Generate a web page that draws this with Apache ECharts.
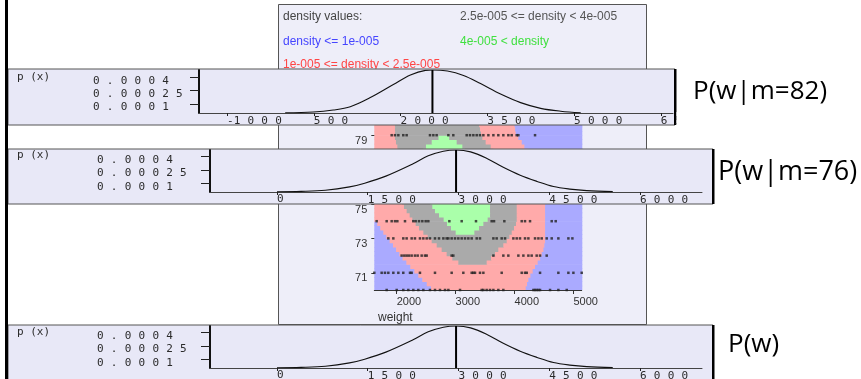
<!DOCTYPE html>
<html>
<head>
<meta charset="utf-8">
<script src="https://cdn.jsdelivr.net/npm/echarts@6/dist/echarts.min.js"></script>
<style>
  html, body { margin: 0; padding: 0; background: #ffffff; }
  #chart { width: 861px; height: 379px; }
</style>
</head>
<body>
<div id="chart"></div>
<script>
// ---- density map: weight vs height, coloured by estimated density class ----
const weightRange = [1620, 5140];
const heightRange = [70, 80.5];
const bandStep = 0.25;
// lower edge of each height band
const bandLow = [70.0, 70.25, 70.5, 70.75, 71.0, 71.25, 71.5, 71.75, 72.0, 72.25, 72.5,
                 72.75, 73.0, 73.25, 73.5, 73.75, 74.0, 74.25, 74.5, 74.75, 75.0,
                 78.0, 78.25, 78.5, 78.75, 79.0, 79.25, 79.5];
// weight where the left blue area ends (null: no blue on the left)
const blueLeftEnd = [2582, 2510, 2435, 2367, 2300, 2231, 2164, 2100, 2045, 1990, 1937,
                     1880, 1824, 1773, 1722, 1671, null, null, null, null, null,
                     null, null, null, null, null, null, null];
// weight where the grey ring starts / ends (null: band below the ring)
const grayStart = [null, null, null, null, null, null, 3046, 2944, 2848, 2763, 2679,
                   2594, 2526, 2452, 2379, 2322, 2265, 2220, 2169, 2124, 2090,
                   2028, 2011, 1988, 1971, 1971, 1971, 1971];
const grayEnd = [null, null, null, null, null, null, 3527, 3601, 3669, 3725, 3810,
                 3867, 3912, 3952, 3991, 4025, 4037, 4037, 4037, 4037, 4037,
                 3640, 3595, 3510, 3454, 3431, 3415, 3400];
// weight span of the green core
const greenStart = [null, null, null, null, null, null, null, null, null, null, null,
                    null, null, 3001, 2922, 2854, 2797, 2718, 2650, 2605, 2570,
                    2452, 2497, 2594, 2710, null, null, null];
const greenEnd = [null, null, null, null, null, null, null, null, null, null, null,
                  null, null, 3318, 3397, 3471, 3544, 3584, 3584, 3584, 3584,
                  3160, 3114, 3018, 2890, null, null, null];
// weight where the right blue area starts
const blueRightStart = [4190, 4212, 4235, 4269, 4308, 4348, 4393, 4433, 4461, 4490, 4506,
                        4518, 4518, 4518, 4518, 4518, 4518, 4518, 4518, 4518, 4518,
                        4235, 4167, 4122, 4065, 4020, 4009, 4000];
const regionColors = ['#aaaaff', '#ffaaaa', '#aaaaaa', '#aaffaa'];

// observed (weight, height) instances, one list per height
const dotHeights = [70, 71, 72, 73, 74, 79];
const dotWeights = [
  [1830, 2000, 2112, 2197, 2282, 2367, 2452, 2565, 2650, 2735, 2820, 2877, 3075, 3443,
   3471, 3527, 3584, 3641, 3725, 3810, 4320, 4348, 4376, 4405, 4433, 4603, 4744, 4886],
  [1620, 1745, 1801, 1858, 1943, 2028, 2112, 2226, 2254, 2395, 2650, 2933, 3131, 3273,
   3301, 3329, 3414, 3471, 3782, 4122, 4178, 4207, 4433, 4744, 4914, 4999, 5140],
  [2084, 2129, 2169, 2209, 2254, 2310, 2356, 2424, 2480, 2509, 2933, 2961, 3641, 3810,
   3895, 4065, 4150, 4235, 4291, 4376, 4433, 4546],
  [1858, 1943, 2112, 2169, 2254, 2310, 2395, 2452, 2509, 2565, 2650, 2718, 2792, 2848,
   2877, 2933, 2990, 3046, 3103, 3160, 3216, 3273, 3358, 3414, 3641, 3697, 3782, 3839,
   3980, 4037, 4093, 4178, 4235, 4348, 4405, 4461, 4546, 4631, 4744, 4914, 4982],
  [1660, 1830, 1915, 1971, 2011, 2141, 2282, 2322, 2379, 2435, 2492, 2537, 2894, 3103,
   3346, 3612, 3652, 3827, 4122, 4178, 4263, 4631, 4699],
  [1915, 1971, 2028, 2112, 2169, 2565, 2622, 2678, 2877, 2961, 3188, 3244, 3301, 3358,
   3414, 3471, 3556, 3641, 3725, 3810, 3895, 3952, 4037, 4065, 4348]
];
const mapWeightTicks = [2000, 3000, 4000, 5000];
const mapHeightTicks = [71, 73, 75, 77, 79];

// ---- one-dimensional densities p(x) over weight ----
const weights82 = [5, 490, 836, 1130, 1477, 1875, 2170, 2430, 2551, 2811, 3088, 3382,
                   3729, 4075, 4422, 4768, 5115];
const density82 = [0.000002, 0.000011, 0.000033, 0.00007, 0.000172, 0.000318, 0.000425,
                   0.000476, 0.00048, 0.000468, 0.000418, 0.000328, 0.000212, 0.000116,
                   0.000052, 0.00002, 0.000003];
const mean82 = 2551;

const weights76 = [0, 400, 800, 1200, 1450, 1800, 2250, 2500, 2750, 2960, 3200, 3470,
                   3740, 4020, 4300, 4570, 4840, 5120, 5550];
const density76 = [0.000002, 0.000007, 0.00002, 0.000058, 0.0001, 0.00018, 0.00032,
                   0.00041, 0.000462, 0.000476, 0.000455, 0.00038, 0.00028, 0.00019,
                   0.00012, 0.000062, 0.000033, 0.000016, 0.000005];
const mean76 = 2960;

const weightsAll = [0, 400, 800, 1200, 1450, 1800, 2250, 2500, 2750, 2960, 3200, 3470,
                    3740, 4020, 4300, 4570, 4840, 5120, 5550];
const densityAll = [0.000002, 0.000007, 0.00002, 0.000058, 0.0001, 0.00018, 0.00032,
                    0.00041, 0.000462, 0.000476, 0.000455, 0.00038, 0.00028, 0.00019,
                    0.00012, 0.000062, 0.000033, 0.000016, 0.000005];
const meanAll = 2960;

const densityTicks = [0.0001, 0.00025, 0.0004];
const weightTicks82 = [-1000, 500, 2000, 3500, 5000, 6500];
const weightTicks = [0, 1500, 3000, 4500, 6000];

// ---- build coloured band segments: [w0, w1, h0, h1, class] ----
const segments = [];
bandLow.forEach((h, i) => {
  const top = h + bandStep;
  let x = weightRange[0];
  const push = (end, cls) => {
    if (end != null && end > x) { segments.push([x, end, h, top, cls]); x = end; }
  };
  push(blueLeftEnd[i], 0);
  if (grayStart[i] != null) {
    push(grayStart[i], 1);
    if (greenStart[i] != null) {
      push(greenStart[i], 2);
      push(greenEnd[i], 3);
    }
    push(grayEnd[i], 2);
  }
  push(blueRightStart[i], 1);
  push(weightRange[1], 0);
});

const dots = [];
dotHeights.forEach((h, i) => dotWeights[i].forEach(w => dots.push([w, h])));

const zip = (xs, ys) => xs.map((x, i) => [x, ys[i]]);

// wide, spaced-out lettering used by the p(x) panels
const monoFont = '"DejaVu Sans Mono", "Liberation Mono", monospace';
const panelInk = '#2a2a2a';
const gapRich = { g: { fontFamily: monoFont, fontSize: 12, color: panelInk } };
function spread(text) {
  let out = '';
  for (let i = 0; i < text.length; i++) {
    if (i > 0 && text[i - 1] !== '-') out += '{g| }';
    out += text[i];
  }
  return out;
}

const panelText = { fontFamily: monoFont, fontSize: 11, color: panelInk, rich: gapRich };

function panelAxes(idx, xMin, xMax, xTicks, yMax, labelMargin) {
  return {
    x: {
      type: 'value', gridIndex: idx, min: xMin, max: xMax, z: 11,
      axisLine: { show: true, onZero: false, lineStyle: { color: '#444', width: 1 } },
      axisTick: { show: true, customValues: xTicks, length: 3, lineStyle: { color: '#222' } },
      axisLabel: Object.assign({ customValues: xTicks, align: 'left', verticalAlign: 'top',
        margin: 2, formatter: v => spread(String(v)) }, panelText),
      splitLine: { show: false }
    },
    y: {
      type: 'value', gridIndex: idx, min: 0, max: yMax, z: 11,
      axisLine: { show: true, onZero: false, lineStyle: { color: '#111', width: 2 } },
      axisTick: { show: true, customValues: densityTicks, length: 9, lineStyle: { color: '#222' } },
      axisLabel: Object.assign({ customValues: densityTicks, align: 'left', verticalAlign: 'middle',
        padding: [7, 0, 0, 0], margin: labelMargin, formatter: v => spread(String(v)) }, panelText),
      splitLine: { show: false }
    }
  };
}

const p1 = panelAxes(1, -1485, 6710, weightTicks82, 0.00048, 106);
const p2 = panelAxes(2, -1107, 7025, weightTicks, 0.000476, 113);
const p3 = panelAxes(3, -1107, 7025, weightTicks, 0.000476, 113);

function curve(idx, xs, ys) {
  return {
    type: 'line', xAxisIndex: idx, yAxisIndex: idx, z: 12, smooth: 0.35,
    showSymbol: false, silent: true, data: zip(xs, ys),
    lineStyle: { color: '#111', width: 1.1 }
  };
}
function meanLine(idx, mean, top) {
  return {
    type: 'line', xAxisIndex: idx, yAxisIndex: idx, z: 12, showSymbol: false, silent: true,
    data: [[mean, 0], [mean, top]], lineStyle: { color: '#000', width: 2 }
  };
}

function panelFrame(y, h, right) {
  return [
    { type: 'rect', z: 10, silent: true, shape: { x: 8, y: y, width: right - 8, height: h },
      style: { fill: '#e8e8f7', stroke: '#555', lineWidth: 1 } },
    { type: 'rect', z: 10, silent: true, shape: { x: right - 1, y: y, width: 2.5, height: h },
      style: { fill: '#000' } }
  ];
}

function legendText(x, y, text, color) {
  return { type: 'text', z: 1, silent: true, x: x, y: y,
    style: { text: text, fill: color, font: '12px "Liberation Sans", Arial, sans-serif',
             textVerticalAlign: 'middle', verticalAlign: 'middle' } };
}
function pxLabel(y) {
  return { type: 'text', z: 11, silent: true, x: 17, y: y,
    style: { text: 'p (x)', fill: panelInk, font: '11px ' + monoFont,
             textVerticalAlign: 'middle', verticalAlign: 'middle' } };
}
function sideLabel(x, y, text, size) {
  return { type: 'text', z: 14, silent: true, x: x, y: y,
    style: { text: text, fill: '#000', font: size + 'px "Open Sans", "Noto Sans", sans-serif',
             textVerticalAlign: 'middle', verticalAlign: 'middle' } };
}

const mapFont = '"Liberation Sans", Arial, sans-serif';

const option = {
  animation: false,
  backgroundColor: '#ffffff',
  grid: [
    { left: 374.3, top: 109.4, width: 207.4, height: 180.6, containLabel: false, outerBoundsMode: 'none' },
    { left: 199, top: 70, width: 474, height: 43, containLabel: false, outerBoundsMode: 'none' },
    { left: 210, top: 150, width: 492, height: 42, containLabel: false, outerBoundsMode: 'none' },
    { left: 210, top: 326, width: 492, height: 42, containLabel: false, outerBoundsMode: 'none' }
  ],
  xAxis: [
    {
      type: 'value', gridIndex: 0, min: weightRange[0], max: weightRange[1], z: 3,
      axisLine: { show: true, onZero: false, lineStyle: { color: '#333', width: 1 } },
      axisTick: { show: true, customValues: mapWeightTicks, length: 4, lineStyle: { color: '#333' } },
      axisLabel: { customValues: mapWeightTicks, align: 'left', verticalAlign: 'top', margin: 6,
        formatter: v => String(v), fontFamily: mapFont, fontSize: 11, color: '#333' },
      splitLine: { show: false }
    },
    p1.x, p2.x, p3.x
  ],
  yAxis: [
    {
      type: 'value', gridIndex: 0, min: heightRange[0], max: heightRange[1], z: 3,
      axisLine: { show: false, onZero: false },
      axisTick: { show: true, customValues: mapHeightTicks, length: 3, lineStyle: { color: '#333' } },
      axisLabel: { customValues: mapHeightTicks, verticalAlign: 'top', margin: 7,
        formatter: v => String(v), fontFamily: mapFont, fontSize: 11, color: '#333' },
      splitLine: { show: false }
    },
    p1.y, p2.y, p3.y
  ],
  series: [
    {
      type: 'custom', xAxisIndex: 0, yAxisIndex: 0, z: 2, silent: true, clip: true,
      encode: { x: [0, 1], y: [2, 3] },
      data: segments,
      renderItem: (params, api) => {
        const a = api.coord([api.value(0), api.value(3)]);
        const b = api.coord([api.value(1), api.value(2)]);
        return {
          type: 'rect',
          shape: { x: a[0], y: a[1], width: b[0] - a[0] + 0.6, height: b[1] - a[1] + 0.6 },
          style: { fill: regionColors[api.value(4)] }
        };
      }
    },
    {
      type: 'scatter', xAxisIndex: 0, yAxisIndex: 0, z: 3, silent: true,
      symbol: 'rect', symbolSize: 2.5, data: dots,
      itemStyle: { color: '#222' }
    },
    curve(1, weights82, density82), meanLine(1, mean82, 0.00048),
    curve(2, weights76, density76), meanLine(2, mean76, 0.000476),
    curve(3, weightsAll, densityAll), meanLine(3, meanAll, 0.000476)
  ],
  graphic: {
    elements: [
      // frame of the density map
      { type: 'rect', z: 0, silent: true, shape: { x: 278.5, y: 4.5, width: 368, height: 320 },
        style: { fill: '#eeeef9', stroke: '#555', lineWidth: 1 } },
      legendText(283, 17, 'density values:', '#444'),
      legendText(460, 17, '2.5e-005 <= density < 4e-005', '#555'),
      legendText(283, 42, 'density <= 1e-005', '#4545ff'),
      legendText(460, 42, '4e-005 < density', '#40e040'),
      legendText(283, 65, '1e-005 <= density < 2.5e-005', '#ff4545'),
      { type: 'text', z: 1, silent: true, x: 378, y: 317.5,
        style: { text: 'weight', fill: '#333', font: '12px ' + mapFont,
                 textVerticalAlign: 'middle', verticalAlign: 'middle' } },
      // p(x) panels
      ...panelFrame(69, 56, 675),
      ...panelFrame(149, 55, 713),
      ...panelFrame(325, 60, 713),
      pxLabel(77.5), pxLabel(155.5), pxLabel(332.5),
      // space right of the first panel
      { type: 'rect', z: 13, silent: true, shape: { x: 676.5, y: 112, width: 50, height: 16 },
        style: { fill: '#ffffff' } },
      // left rule
      { type: 'rect', z: 14, silent: true, shape: { x: 5, y: 0, width: 3, height: 379 },
        style: { fill: '#000' } },
      sideLabel(693, 92, 'P(w|m=82)', 26),
      sideLabel(718, 172, 'P(w|m=76)', 27),
      sideLabel(728, 345, 'P(w)', 26)
    ]
  }
};

const chart = echarts.init(document.getElementById('chart'), null, { renderer: 'canvas' });
chart.setOption(option);
</script>
</body>
</html>
